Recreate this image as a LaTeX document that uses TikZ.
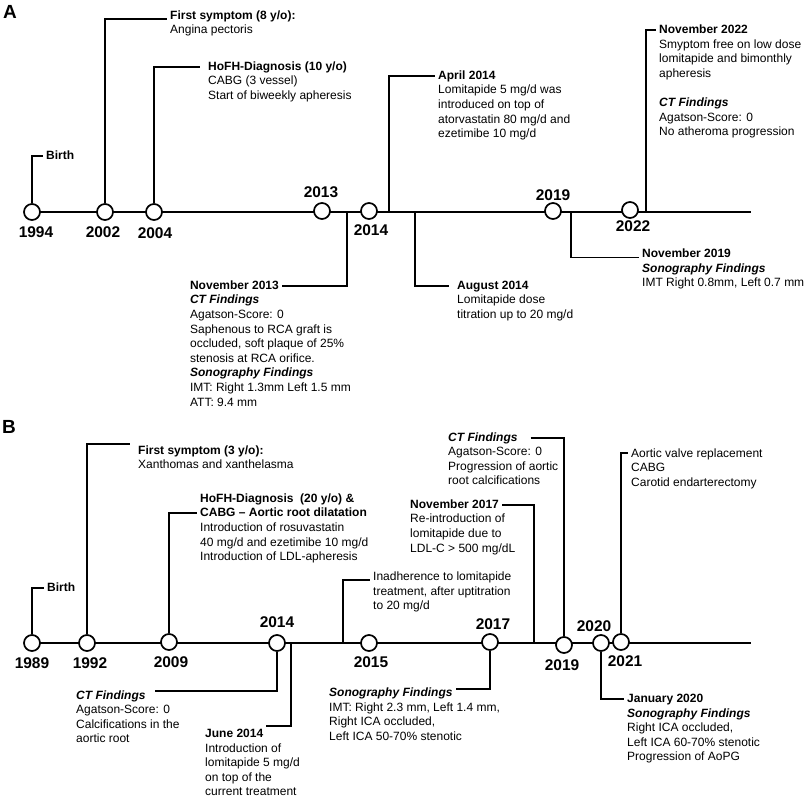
\documentclass[tikz,border=0pt]{standalone}
\usepackage{fontspec}
\setmainfont{Liberation Sans}

\begin{document}
\begin{tikzpicture}[x=1pt, y=-1pt,
	tl/.style={line width=1.8pt},
	conn/.style={line width=1.8pt},
	yc/.style={circle, draw, fill=white, line width=1.7pt, minimum size=16pt, inner sep=0pt},
	yr/.style={font=\bfseries\fontsize{15.5}{18}\selectfont, inner sep=0pt},
	head/.style={font=\bfseries\fontsize{12}{14.6}\selectfont, text height=8.8pt, text depth=2.4pt, inner xsep=3pt, inner ysep=0pt},
	headit/.style={head, font=\bfseries\itshape\fontsize{12}{14.6}\selectfont},
	body/.style={font=\fontsize{12}{14.6}\selectfont, align=left, anchor=north west, inner xsep=3pt, inner ysep=0pt},
	panel/.style={font=\bfseries\fontsize{19}{22}\selectfont, inner sep=0pt}]

\useasboundingbox (0,0) rectangle (809,800);

%% ---------------- panel A ----------------
\node[panel] (pa) at (10,12) {A};

\coordinate (startA) at (32,212);
\coordinate (endA) at (751,212);
\coordinate (tA13) at (347,212);
\coordinate (tA14a) at (389,212);
\coordinate (tA14b) at (415,212);
\coordinate (tA19) at (571,212);
\coordinate (tA22) at (646,212);
\draw[tl] (startA) -- (endA);

\node[yc] (a1994) at (32,212) {};
\node[yc] (a2002) at (105,212) {};
\node[yc] (a2004) at (154,212) {};
\node[yc] (a2013) at (322,211) {};
\node[yc] (a2014) at (369,211) {};
\node[yc] (a2019) at (553,211) {};
\node[yc] (a2022) at (630,210) {};

\node[yr] (y1994) at (36,232) {1994};
\node[yr] (y2002) at (103,232) {2002};
\node[yr] (y2004) at (155,233) {2004};
\node[yr] (y2013) at (321,192) {2013};
\node[yr] (y2014) at (371,230) {2014};
\node[yr] (y2019) at (553,195) {2019};
\node[yr] (y2022) at (633,226) {2022};

\node[head, anchor=base west] (hABirth) at (43,159.3) {Birth};

\node[head, anchor=base west] (hA02) at (167,19.3) {First symptom (8 y/o):};
\node[body] (bA02) at ([yshift=-5.8pt]hA02.base west) {Angina pectoris};

\node[head, anchor=base west] (hA04) at (205,70.3) {HoFH-Diagnosis (10 y/o)};
\node[body] (bA04) at ([yshift=-5.8pt]hA04.base west) {CABG (3 vessel)\\Start of biweekly apheresis};

\node[head, anchor=base west] (hA14a) at (435,79.3) {April 2014};
\node[body] (bA14a) at ([yshift=-5.8pt]hA14a.base west) {Lomitapide 5 mg/d was\\introduced on top of\\atorvastatin 80 mg/d and\\ezetimibe 10 mg/d};

\node[head, anchor=base west] (hA22) at (656,33.6) {November 2022};
\node[body] (bA22) at ([yshift=-5.8pt]hA22.base west) {Smyptom free on low dose\\lomitapide and bimonthly\\apheresis\\[14.6pt]\textbf{\textit{CT Findings}}\\Agatson-Score: 0\\No atheroma progression};

\node[head, anchor=base east] (hA13) at (282,289.3) {November 2013};
\node[body] (bA13) at ([yshift=-5.8pt]hA13.base west) {\textbf{\textit{CT Findings}}\\Agatson-Score: 0\\Saphenous to RCA graft is\\occluded, soft plaque of 25\%\\stenosis at RCA orifice.\\\textbf{\textit{Sonography Findings}}\\IMT: Right 1.3mm Left 1.5 mm\\ATT: 9.4 mm};

\node[head, anchor=base west] (hA14b) at (454,289.3) {August 2014};
\node[body] (bA14b) at ([yshift=-5.8pt]hA14b.base west) {Lomitapide dose\\titration up to 20 mg/d};

\node[head, anchor=base west] (hA19) at (639,257.6) {November 2019};
\node[body] (bA19) at ([yshift=-5.8pt]hA19.base west) {\textbf{\textit{Sonography Findings}}\\IMT Right 0.8mm, Left 0.7 mm};

\draw[conn] (a1994.north) |- (hABirth.west);
\draw[conn] (a2002.north) |- ([yshift=-3pt]hA02.west);
\draw[conn] (a2004.north) |- ([xshift=-5pt]hA04.west);
\draw[conn] (tA14a) |- (hA14a.west);
\draw[conn] (tA22) |- (hA22.west);
\draw[conn] (tA13) |- (hA13.east);
\draw[conn] (tA14b) |- ([xshift=-5pt]hA14b.west);
\draw[conn] (tA19) |- ([yshift=-3pt]hA19.west);

%% ---------------- panel B ----------------
\node[panel] (pb) at (9,427) {B};

\coordinate (startB) at (32,643);
\coordinate (endB) at (751,643);
\coordinate (tB14j) at (291,643);
\coordinate (tB14in) at (343,643);
\coordinate (tB17n) at (534,643);
\draw[tl] (startB) -- (endB);

\node[yc] (b1989) at (32,643) {};
\node[yc] (b1992) at (87,643) {};
\node[yc] (b2009) at (169,642) {};
\node[yc] (b2014) at (277,643) {};
\node[yc] (b2015) at (369,643) {};
\node[yc] (b2017) at (490,642) {};
\node[yc] (b2019) at (564,645) {};
\node[yc] (b2020) at (601,643) {};
\node[yc] (b2021) at (621,642) {};

\node[yr] (y1989) at (32,663) {1989};
\node[yr] (y1992) at (90,663) {1992};
\node[yr] (y2009) at (171,662) {2009};
\node[yr] (y2014) at (277,622) {2014};
\node[yr] (y2015) at (371,662) {2015};
\node[yr] (y2017) at (493,624) {2017};
\node[yr] (y2019) at (562,665) {2019};
\node[yr] (y2020) at (594,626) {2020};
\node[yr] (y2021) at (625,661) {2021};

\node[head, anchor=base west] (hBBirth) at (44,591.3) {Birth};

\node[head, anchor=base west] (hB92) at (135,454.3) {First symptom (3 y/o):};
\node[body] (bB92) at ([yshift=-5.8pt]hB92.base west) {Xanthomas and xanthelasma};

\node[body, font=\bfseries\fontsize{12}{14.6}\selectfont] (hB09) at (197,493.5) {HoFH-Diagnosis~ (20 y/o) \&\\CABG -- Aortic root dilatation};
\node[body] (bB09) at (197,522.5) {Introduction of rosuvastatin\\40 mg/d and ezetimibe 10 mg/d\\Introduction of LDL-apheresis};

\node[body] (eBin) at (370,571.5) {Inadherence to lomitapide\\treatment, after uptitration\\to 20 mg/d};

\node[head, anchor=base west] (hB17n) at (407,508.3) {November 2017};
\node[body] (bB17n) at ([yshift=-5.8pt]hB17n.base west) {Re-introduction of\\lomitapide due to\\LDL-C > 500 mg/dL};

\node[headit, anchor=base west] (hB19) at (445,441.3) {CT Findings};
\node[body] (bB19) at ([yshift=-5.8pt]hB19.base west) {Agatson-Score: 0\\Progression of aortic\\root calcifications};

\node[body] (eB21) at (628,448.5) {Aortic valve replacement\\CABG\\Carotid endarterectomy};

\node[headit, anchor=base west] (hB14) at (73,699.3) {CT Findings};
\node[body] (bB14) at ([yshift=-5.8pt]hB14.base west) {Agatson-Score: 0\\Calcifications in the\\aortic root};

\node[head, anchor=base west] (hBJune) at (202,737.3) {June 2014};
\node[body] (bBJune) at ([yshift=-5.8pt]hBJune.base west) {Introduction of\\lomitapide 5 mg/d\\on top of the\\current treatment};

\node[headit, anchor=base west] (hB17s) at (326,696.3) {Sonography Findings};
\node[body] (bB17s) at ([yshift=-5.8pt]hB17s.base west) {IMT: Right 2.3 mm, Left 1.4 mm,\\Right ICA occluded,\\Left ICA 50-70\% stenotic};

\node[head, anchor=base west] (hB20) at (624,702.3) {January 2020};
\node[body] (bB20) at ([yshift=-5.8pt]hB20.base west) {\textbf{\textit{Sonography Findings}}\\Right ICA occluded,\\Left ICA 60-70\% stenotic\\Progression of AoPG};

\draw[conn] (b1989.north) |- (hBBirth.west);
\draw[conn] (b1992.north) |- ([xshift=-5pt,yshift=7pt]hB92.west);
\draw[conn] (b2009.north) |- ([yshift=-19.5pt]hB09.north west);
\draw[conn] (tB14in) |- ([yshift=-8.5pt]eBin.north west);
\draw[conn] (hB17n.east) -| (tB17n);
\draw[conn] ([xshift=10pt]hB19.east) -| (b2019.north);
\draw[conn] (b2021.north) |- ([yshift=-4.5pt]eB21.north west);
\draw[conn] (b2014.south) |- ([xshift=6pt,yshift=5pt]hB14.east);
\draw[conn] (tB14j) |- ([yshift=8pt]hBJune.east);
\draw[conn] (b2017.south) |- ([yshift=4pt]hB17s.east);
\draw[conn] (b2020.south) |- (hB20.west);
\end{tikzpicture}
\end{document}
